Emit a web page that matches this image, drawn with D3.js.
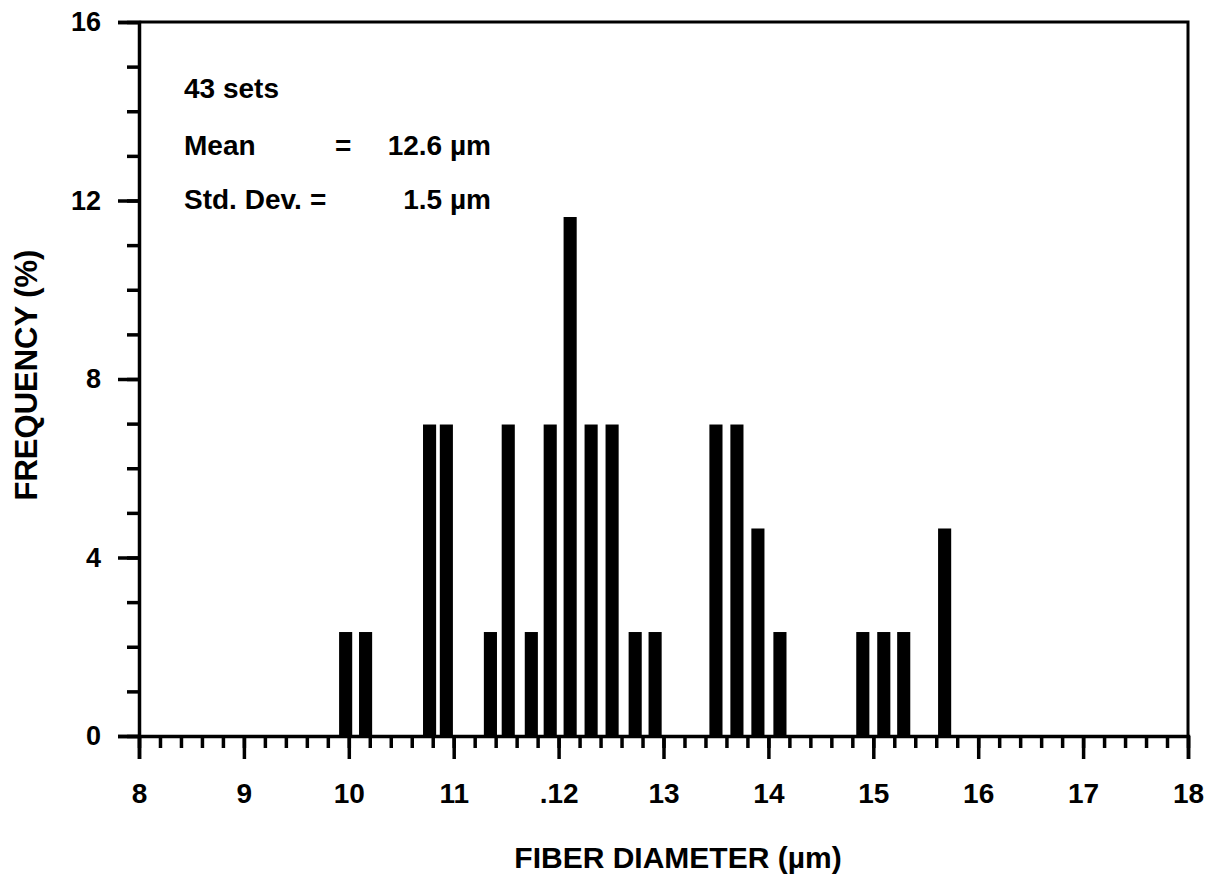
<!DOCTYPE html>
<html>
<head>
<meta charset="utf-8">
<script src="https://cdn.jsdelivr.net/npm/d3@7"></script>
<style>
  html, body { margin: 0; padding: 0; background: #fff; }
  svg { display: block; }
  text { font-family: "Liberation Sans", Arial, Helvetica, sans-serif; font-weight: bold; fill: #000; }
</style>
</head>
<body>
<svg id="chart" width="1221" height="880"></svg>
<script>
// ---- data ----
const binCenters = [9.97, 10.16, 10.77, 10.93, 11.35, 11.52, 11.74, 11.92, 12.11, 12.31, 12.51,
                    12.73, 12.92, 13.50, 13.70, 13.90, 14.11, 14.90, 15.10, 15.29, 15.68];
const frequencies = [2.33, 2.33, 6.98, 6.98, 2.33, 6.98, 2.33, 6.98, 11.63, 6.98, 6.98,
                     2.33, 2.33, 6.98, 6.98, 4.65, 2.33, 2.33, 2.33, 2.33, 4.65];
const xTickValues = [8, 9, 10, 11, 12, 13, 14, 15, 16, 17, 18];
const xTickLabels = ["8", "9", "10", "11", ".12", "13", "14", "15", "16", "17", "18"];
const yTickValues = [0, 4, 8, 12, 16];
const yTickLabels = ["0", "4", "8", "12", "16"];
const xTitle = "FIBER DIAMETER (\u00B5m)";
const yTitle = "FREQUENCY (%)";
const statLabels = ["Mean", "Std. Dev."];
const statValues = ["12.6 \u00B5m", "1.5 \u00B5m"];
const setsLabel = "43 sets";

// ---- layout ----
const svg = d3.select("#chart");
const x = d3.scaleLinear().domain([8, 18]).range([139, 1188]);
const y = d3.scaleLinear().domain([0, 16]).range([736, 22]);
const barWidth = x(8.125) - x(8);

// bars
svg.append("g").selectAll("rect")
  .data(binCenters.map((c, i) => ({ c, f: frequencies[i] })))
  .join("rect")
  .attr("x", d => x(d.c) - barWidth / 2)
  .attr("y", d => y(d.f))
  .attr("width", barWidth)
  .attr("height", d => y(0) - y(d.f))
  .attr("fill", "#000");

// frame (top and right)
svg.append("path")
  .attr("d", `M${x(8)},${y(16)}H${x(18)}V${y(0)}`)
  .attr("fill", "none").attr("stroke", "#000").attr("stroke-width", 3);

// x minor ticks
const xMinor = d3.range(8, 18.001, 0.2).map(v => +v.toFixed(1));
svg.append("g")
  .attr("transform", `translate(0,${y(0)})`)
  .call(d3.axisBottom(x).tickValues(xMinor).tickSize(12).tickFormat(""))
  .call(g => g.selectAll("line").attr("stroke-width", 3.5))
  .call(g => g.select(".domain").remove());

// x major ticks + labels
svg.append("g")
  .attr("transform", `translate(0,${y(0)})`)
  .call(d3.axisBottom(x).tickValues(xTickValues).tickSize(23).tickPadding(24)
        .tickFormat((d, i) => xTickLabels[i]))
  .call(g => g.selectAll("line").attr("stroke-width", 3.5))
  .call(g => g.select(".domain").attr("stroke-width", 3.5))
  .call(g => g.selectAll("text").attr("font-size", 28).attr("font-family", null).attr("font-weight", "bold"));

// y minor ticks
const yMinor = d3.range(0, 16.001, 1);
svg.append("g")
  .attr("transform", `translate(${x(8)},0)`)
  .call(d3.axisLeft(y).tickValues(yMinor).tickSize(12).tickFormat(""))
  .call(g => g.selectAll("line").attr("stroke-width", 3.5))
  .call(g => g.select(".domain").remove());

// y major ticks + labels
svg.append("g")
  .attr("transform", `translate(${x(8)},0)`)
  .call(d3.axisLeft(y).tickValues(yTickValues).tickSize(21).tickPadding(17)
        .tickFormat((d, i) => yTickLabels[i]))
  .call(g => g.selectAll("line").attr("stroke-width", 3.5))
  .call(g => g.select(".domain").attr("stroke-width", 3.5))
  .call(g => g.selectAll("text").attr("font-size", 27).attr("font-family", null).attr("font-weight", "bold"));

// axis titles
svg.append("text")
  .attr("x", 678).attr("y", 868)
  .attr("text-anchor", "middle").attr("font-size", 30)
  .text(xTitle);

svg.append("text")
  .attr("transform", `translate(37,375) rotate(-90)`)
  .attr("text-anchor", "middle").attr("font-size", 31)
  .text(yTitle);

// annotation
const annX = 184;
const annSize = 28;
svg.append("text").attr("x", annX).attr("y", 98).attr("font-size", annSize).text(setsLabel);
const rowsY = [155, 209];
const eqX = [335, 310];
statLabels.forEach((lab, i) => {
  svg.append("text").attr("x", annX).attr("y", rowsY[i]).attr("font-size", annSize).text(lab);
  svg.append("text").attr("x", eqX[i]).attr("y", rowsY[i]).attr("font-size", annSize).text("=");
  svg.append("text").attr("x", 491).attr("y", rowsY[i]).attr("text-anchor", "end")
    .attr("font-size", annSize).text(statValues[i]);
});
</script>
</body>
</html>
